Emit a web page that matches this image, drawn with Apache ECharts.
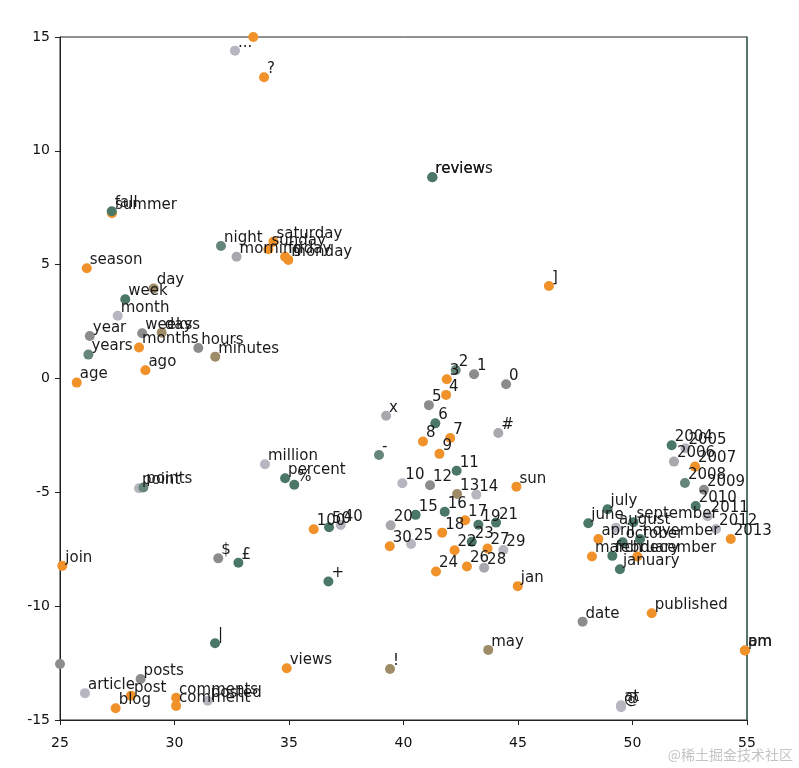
<!DOCTYPE html>
<html>
<head>
<meta charset="utf-8">
<script src="https://cdn.jsdelivr.net/npm/echarts@6/dist/echarts.min.js"></script>
<style>
  html, body { margin: 0; padding: 0; background: #fff; }
  #chart { width: 799px; height: 768px; }
</style>
</head>
<body>
<div id="chart"></div>
<script>
// word labels, positions and colour keys
var words = ['', '...', '?', 'summer', 'fall', 'season', 'night', 'morning', 'saturday', 'sunday',
  'friday', 'monday', 'day', 'week', 'month', 'year', 'weeks', 'days', 'years', 'months',
  'hours', 'minutes', 'ago', 'age', 'reviews', 'review', ']', '2', '3', '1',
  '0', '4', '5', 'x', '6', '#', '7', '8', '9', '-',
  '11', '10', '12', '13', '14', 'sun', '15', '16', '17', '19',
  '21', '20', '18', '23', '22', '27', '29', '30', '25', '24',
  '26', '28', 'jan', '2004', '2005', '2006', '2007', '2008', '2009', '2010',
  '2011', '2012', '2013', 'july', 'june', 'august', 'september', 'april', 'october', 'november',
  'march', 'february', 'december', 'january', 'million', 'percent', '%', 'point', 'points', '100',
  '50', '40', 'join', '$', '£', '+', '', '|', 'views', 'posts',
  'article', 'post', 'blog', 'comments', 'comment', 'posted', '!', 'may', 'date', 'published',
  'am', 'pm', '@', 'at'];

var xs = [33.44, 32.64, 33.91, 27.27, 27.26, 26.17, 32.03, 32.71, 34.32, 34.10,
  34.83, 34.97, 29.09, 27.85, 27.52, 26.30, 28.59, 29.44, 26.24, 28.45,
  31.04, 31.78, 28.73, 25.73, 41.26, 41.26, 46.35, 42.28, 41.89, 43.08,
  44.48, 41.86, 41.11, 39.24, 41.39, 44.14, 42.04, 40.85, 41.57, 38.93,
  42.32, 39.95, 41.16, 42.34, 43.18, 44.93, 40.53, 41.80, 42.69, 43.27,
  44.04, 39.44, 41.69, 42.98, 42.23, 43.67, 44.36, 39.40, 40.33, 41.42,
  42.77, 43.52, 44.99, 51.71, 52.31, 51.81, 52.73, 52.29, 53.12, 52.76,
  53.28, 53.65, 54.29, 48.91, 48.07, 49.28, 50.04, 48.51, 49.57, 50.33,
  48.23, 49.12, 50.21, 49.45, 33.95, 34.83, 35.23, 28.45, 28.64, 36.08,
  36.75, 37.26, 25.10, 31.91, 32.79, 36.72, 25.00, 31.77, 34.90, 28.52,
  26.09, 28.10, 27.43, 30.07, 30.07, 31.45, 39.41, 43.70, 47.82, 50.84,
  54.91, 54.91, 49.50, 49.50];

var ys = [15.00, 14.40, 13.23, 7.26, 7.35, 4.84, 5.82, 5.35, 6.01, 5.68,
  5.35, 5.21, 3.95, 3.48, 2.76, 1.87, 1.99, 2.01, 1.05, 1.36,
  1.34, 0.96, 0.36, -0.18, 8.84, 8.84, 4.06, 0.37, -0.03, 0.19,
  -0.25, -0.72, -1.17, -1.64, -1.97, -2.39, -2.61, -2.77, -3.31, -3.36,
  -4.05, -4.60, -4.69, -5.07, -5.10, -4.75, -5.99, -5.85, -6.23, -6.42,
  -6.33, -6.45, -6.77, -7.17, -7.54, -7.47, -7.53, -7.37, -7.27, -8.48,
  -8.26, -8.31, -9.12, -2.93, -3.06, -3.65, -3.87, -4.59, -4.89, -5.60,
  -6.05, -6.61, -7.05, -5.74, -6.36, -6.56, -6.31, -7.05, -7.19, -7.05,
  -7.82, -7.79, -7.82, -8.38, -3.77, -4.38, -4.67, -4.82, -4.79, -6.62,
  -6.53, -6.43, -8.23, -7.90, -8.09, -8.92, -12.54, -11.63, -12.73, -13.20,
  -13.82, -13.93, -14.48, -14.02, -14.38, -14.15, -12.76, -11.92, -10.68, -10.31,
  -11.95, -11.95, -14.44, -14.35];

var tones = ['O', 'L', 'O', 'O', 'G', 'O', 'T', 'S', 'O', 'O',
  'O', 'O', 'B', 'G', 'L', 'D', 'D', 'B', 'T', 'O',
  'D', 'B', 'O', 'O', 'G', 'G', 'O', 'T', 'O', 'D',
  'D', 'O', 'D', 'S', 'G', 'S', 'O', 'O', 'O', 'T',
  'G', 'L', 'D', 'B', 'L', 'O', 'G', 'G', 'O', 'G',
  'G', 'S', 'O', 'G', 'O', 'O', 'L', 'O', 'L', 'O',
  'O', 'S', 'O', 'G', 'L', 'S', 'O', 'T', 'D', 'G',
  'L', 'L', 'O', 'G', 'G', 'L', 'G', 'O', 'G', 'G',
  'O', 'G', 'O', 'G', 'L', 'G', 'G', 'L', 'T', 'O',
  'G', 'L', 'O', 'D', 'G', 'G', 'D', 'G', 'O', 'D',
  'L', 'O', 'O', 'O', 'O', 'L', 'B', 'B', 'D', 'O',
  'O', 'O', 'L', 'L'];

var xTicks = [25, 30, 35, 40, 45, 50, 55];
var yTicks = [-15, -10, -5, 0, 5, 10, 15];

var palette = {
  O: '#f0912a',
  G: '#4a7766',
  D: '#8c8c8c',
  L: '#b6b5c0',
  B: '#9e8c68',
  T: '#66867b',
  S: '#a8a8ad'
};

var points = [];
for (var i = 0; i < words.length; i++) {
  points.push({
    value: [xs[i], ys[i]],
    name: words[i],
    itemStyle: { color: palette[tones[i]] }
  });
}

var chart = echarts.init(document.getElementById('chart'));

var tickFont = { fontFamily: 'DejaVu Sans', fontSize: 14, color: '#111' };

var option = {
  animation: false,
  backgroundColor: '#fff',
  grid: {
    left: 60, right: 52, top: 37, bottom: 48,
    show: true, borderColor: '#222', borderWidth: 1
  },
  xAxis: {
    type: 'value',
    min: xTicks[0], max: xTicks[xTicks.length - 1], interval: 5,
    axisLine: { show: true, onZero: false, lineStyle: { color: '#222' } },
    axisTick: { show: true, length: 5, lineStyle: { color: '#222' } },
    axisLabel: Object.assign({ margin: 16 }, tickFont),
    splitLine: { show: false }
  },
  yAxis: [{
    type: 'value',
    min: yTicks[0], max: yTicks[yTicks.length - 1], interval: 5,
    axisLine: { show: true, onZero: false, lineStyle: { color: '#222' } },
    axisTick: { show: true, length: 5, lineStyle: { color: '#222' } },
    axisLabel: Object.assign({ margin: 10 }, tickFont),
    splitLine: { show: false }
  }, {
    type: 'value', position: 'right',
    min: yTicks[0], max: yTicks[yTicks.length - 1], interval: 5,
    axisLine: { show: true, onZero: false, lineStyle: { color: '#456b5e', width: 1.5 } },
    axisTick: { show: false },
    axisLabel: { show: false },
    splitLine: { show: false }
  }],
  series: [{
    type: 'scatter',
    symbol: 'circle',
    symbolSize: 10,
    clip: true,
    data: points,
    itemStyle: { opacity: 1 },
    label: {
      show: true,
      formatter: function (p) { return p.name; },
      position: [8, -3],
      align: 'left',
      verticalAlign: 'middle',
      fontFamily: 'DejaVu Sans',
      fontSize: 15,
      color: '#1a1a1a',
      textBorderWidth: 0,
      opacity: 1
    }
  }],
  graphic: [{
    type: 'text',
    right: 6,
    bottom: 6,
    style: {
      text: '@稀土掘金技术社区',
      fontFamily: 'Noto Sans CJK SC',
      fontSize: 14,
      fill: '#c4c4c4'
    }
  }]
};

chart.setOption(option);
</script>
</body>
</html>
